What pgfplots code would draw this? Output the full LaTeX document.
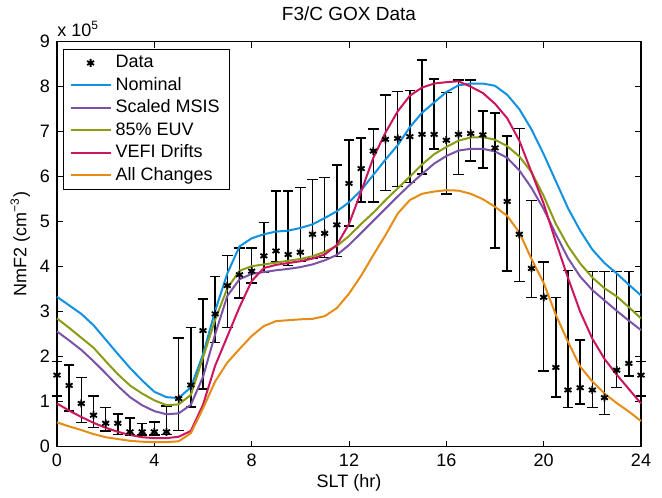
\documentclass[border=0pt]{standalone}
\usepackage{fontspec}
\setmainfont{Liberation Sans}
\usepackage{pgfplots}
\usepackage{pgfplotstable}
\pgfplotsset{compat=1.18}
\definecolor{cnom}{RGB}{16,145,226}
\definecolor{cmsis}{RGB}{122,82,166}
\definecolor{ceuv}{RGB}{140,155,20}
\definecolor{cvefi}{RGB}{205,20,95}
\definecolor{call}{RGB}{230,140,20}

\pgfplotstableread{
x y top bot
0.0 1.59 1.89 1.13
0.5 1.36 1.81 0.79
1.0 0.96 1.54 0.54
1.5 0.70 1.13 0.43
2.0 0.52 0.87 0.35
2.5 0.52 0.73 0.27
3.0 0.33 0.64 0.26
3.5 0.33 0.52 0.26
4.0 0.33 0.55 0.26
4.5 0.33 0.90 0.27
5.0 1.07 2.41 0.36
5.5 1.37 2.65 0.88
6.0 2.58 3.28 1.28
6.5 2.95 3.78 2.31
7.0 3.58 4.25 2.65
7.5 3.82 4.42 3.30
8.0 3.90 4.42 3.64
8.5 4.24 4.98 3.87
9.0 4.35 5.68 4.11
9.5 4.27 5.68 4.03
10.0 4.32 5.76 4.12
10.5 4.72 5.94 4.18
11.0 4.74 5.98 4.20
11.5 4.93 6.26 4.23
12.0 5.85 6.82 4.90
12.5 6.18 6.86 5.44
13.0 6.57 7.06 5.44
13.5 6.83 7.81 5.69
14.0 6.85 7.89 5.78
14.5 6.89 7.91 5.87
15.0 6.94 8.59 6.06
15.5 6.94 8.17 6.61
16.0 6.81 7.87 5.61
16.5 6.94 8.15 6.05
17.0 6.96 8.15 6.35
17.5 6.93 7.46 6.19
18.0 6.64 7.42 4.42
18.5 5.45 6.90 3.90
19.0 4.72 7.07 3.67
19.5 3.96 5.47 3.32
20.0 3.32 4.10 1.68
20.5 1.76 3.32 1.10
21.0 1.26 3.91 0.87
21.5 1.31 2.37 0.95
22.0 1.26 3.89 0.87
22.5 1.09 3.89 0.72
23.0 1.70 3.89 1.31
23.5 1.85 3.89 1.57
24.0 1.59 1.89 1.13
}\obsdata

\pgfplotstableread{
x nom msis euv vefi allc
0    3.33 2.56 2.85 0.96 0.54
0.5  3.14 2.36 2.64 0.80 0.45
1    2.95 2.15 2.42 0.66 0.37
1.5  2.70 1.90 2.20 0.53 0.28
2    2.38 1.63 1.90 0.42 0.21
2.5  2.06 1.35 1.61 0.33 0.17
3    1.75 1.10 1.36 0.26 0.13
3.5  1.47 0.92 1.18 0.21 0.11
4    1.22 0.79 1.03 0.19 0.10
4.5  1.10 0.72 0.92 0.19 0.10
5    1.08 0.74 0.94 0.22 0.12
5.5  1.32 0.93 1.15 0.35 0.30
6    2.05 1.55 1.98 0.93 0.85
6.5  3.02 2.50 2.82 1.80 1.45
7    3.85 3.35 3.52 2.45 1.87
7.5  4.45 3.72 3.91 3.10 2.17
8    4.63 3.84 4.01 3.68 2.46
8.5  4.72 3.88 4.05 3.97 2.68
9    4.78 3.92 4.09 4.04 2.79
9.5  4.80 3.95 4.13 4.08 2.81
10   4.86 3.99 4.17 4.12 2.83
10.5 4.94 4.05 4.23 4.18 2.84
11   5.08 4.14 4.33 4.27 2.90
11.5 5.23 4.26 4.46 4.48 3.08
12   5.43 4.48 4.68 4.95 3.40
12.5 5.70 4.75 4.95 5.67 3.80
13   6.04 5.02 5.20 6.42 4.26
13.5 6.38 5.29 5.48 6.98 4.70
14   6.70 5.56 5.74 7.45 5.18
14.5 7.10 5.82 6.00 7.80 5.48
15   7.42 6.06 6.27 7.98 5.62
15.5 7.65 6.29 6.50 8.07 5.67
16   7.88 6.46 6.66 8.10 5.70
16.5 8.03 6.58 6.80 8.12 5.69
17   8.07 6.62 6.87 8.00 5.62
17.5 8.07 6.62 6.88 7.86 5.50
18   8.02 6.56 6.82 7.62 5.33
18.5 7.82 6.42 6.68 7.30 5.13
19   7.50 6.14 6.45 6.80 4.76
19.5 7.05 5.75 6.10 6.10 4.17
20   6.50 5.28 5.57 5.40 3.64
20.5 5.90 4.72 4.95 4.55 2.93
21   5.30 4.19 4.46 3.75 2.33
21.5 4.80 3.78 4.07 3.00 1.78
22   4.38 3.48 3.76 2.40 1.45
22.5 4.08 3.25 3.52 1.95 1.18
23   3.85 3.02 3.34 1.60 0.97
23.5 3.60 2.80 3.10 1.28 0.78
24   3.36 2.59 2.85 0.96 0.57
}\models

\begin{document}
\begin{tikzpicture}
\begin{axis}[
  scale only axis, width=292pt, height=202.5pt,
  xmin=0, xmax=24, ymin=0, ymax=9,
  xtick={0,4,8,12,16,20,24}, ytick={0,1,2,3,4,5,6,7,8,9},
  tick align=inside, major tick length=3pt,
  tick style={black, line width=0.5pt},
  axis line style={line width=0.6pt},
  font=\fontsize{9}{10}\selectfont,
  /pgf/number format/assume math mode=true,
  title={F3/C GOX Data},
  title style={font=\fontsize{9.5}{11}\selectfont, yshift=1pt},
  xlabel={SLT (hr)},
  ylabel={NmF2 (cm\textsuperscript{−3})},
  xlabel style={yshift=3pt},
  ylabel style={yshift=-2pt},
  legend style={at={(0,1)}, anchor=north west, xshift=3pt, yshift=-3.5pt,
    draw=black, line width=0.6pt, font=\fontsize{9}{10}\selectfont,
    inner xsep=3pt, inner ysep=1pt, row sep=-0.7pt, cells={anchor=west}},
  legend image code/.code={\draw[mark repeat=2,mark phase=2,#1] plot coordinates {(0pt,0pt) (10pt,0pt) (20pt,0pt)};},
  clip=false,
]
\addplot[only marks, black, mark=asterisk, mark size=2pt, line width=0.9pt,
  error bars/.cd, y dir=both, y explicit,
  error bar style={line width=0.75pt, black},
  error mark options={rotate=90, line width=0.75pt, mark size=2.6pt, black}]
  table[x=x, y=y, y error plus expr=\thisrow{top}-\thisrow{y}, y error minus expr=\thisrow{y}-\thisrow{bot}] {\obsdata};
\addlegendentry{Data}
\addplot[cnom, line width=1pt] table[x=x, y=nom] {\models};
\addlegendentry{Nominal}
\addplot[cmsis, line width=1pt] table[x=x, y=msis] {\models};
\addlegendentry{Scaled MSIS}
\addplot[ceuv, line width=1pt] table[x=x, y=euv] {\models};
\addlegendentry{85\% EUV}
\addplot[cvefi, line width=1pt] table[x=x, y=vefi] {\models};
\addlegendentry{VEFI Drifts}
\addplot[call, line width=1pt] table[x=x, y=allc] {\models};
\addlegendentry{All Changes}
\node[anchor=base west, inner sep=0pt] at (rel axis cs:0,1) [yshift=2.5pt] {x 10\textsuperscript{5}};
\end{axis}
\path (current axis.south west) ++(-28.5pt,-23.5pt) rectangle ([xshift=10.5pt,yshift=20pt]current axis.north east);
\end{tikzpicture}
\end{document}
